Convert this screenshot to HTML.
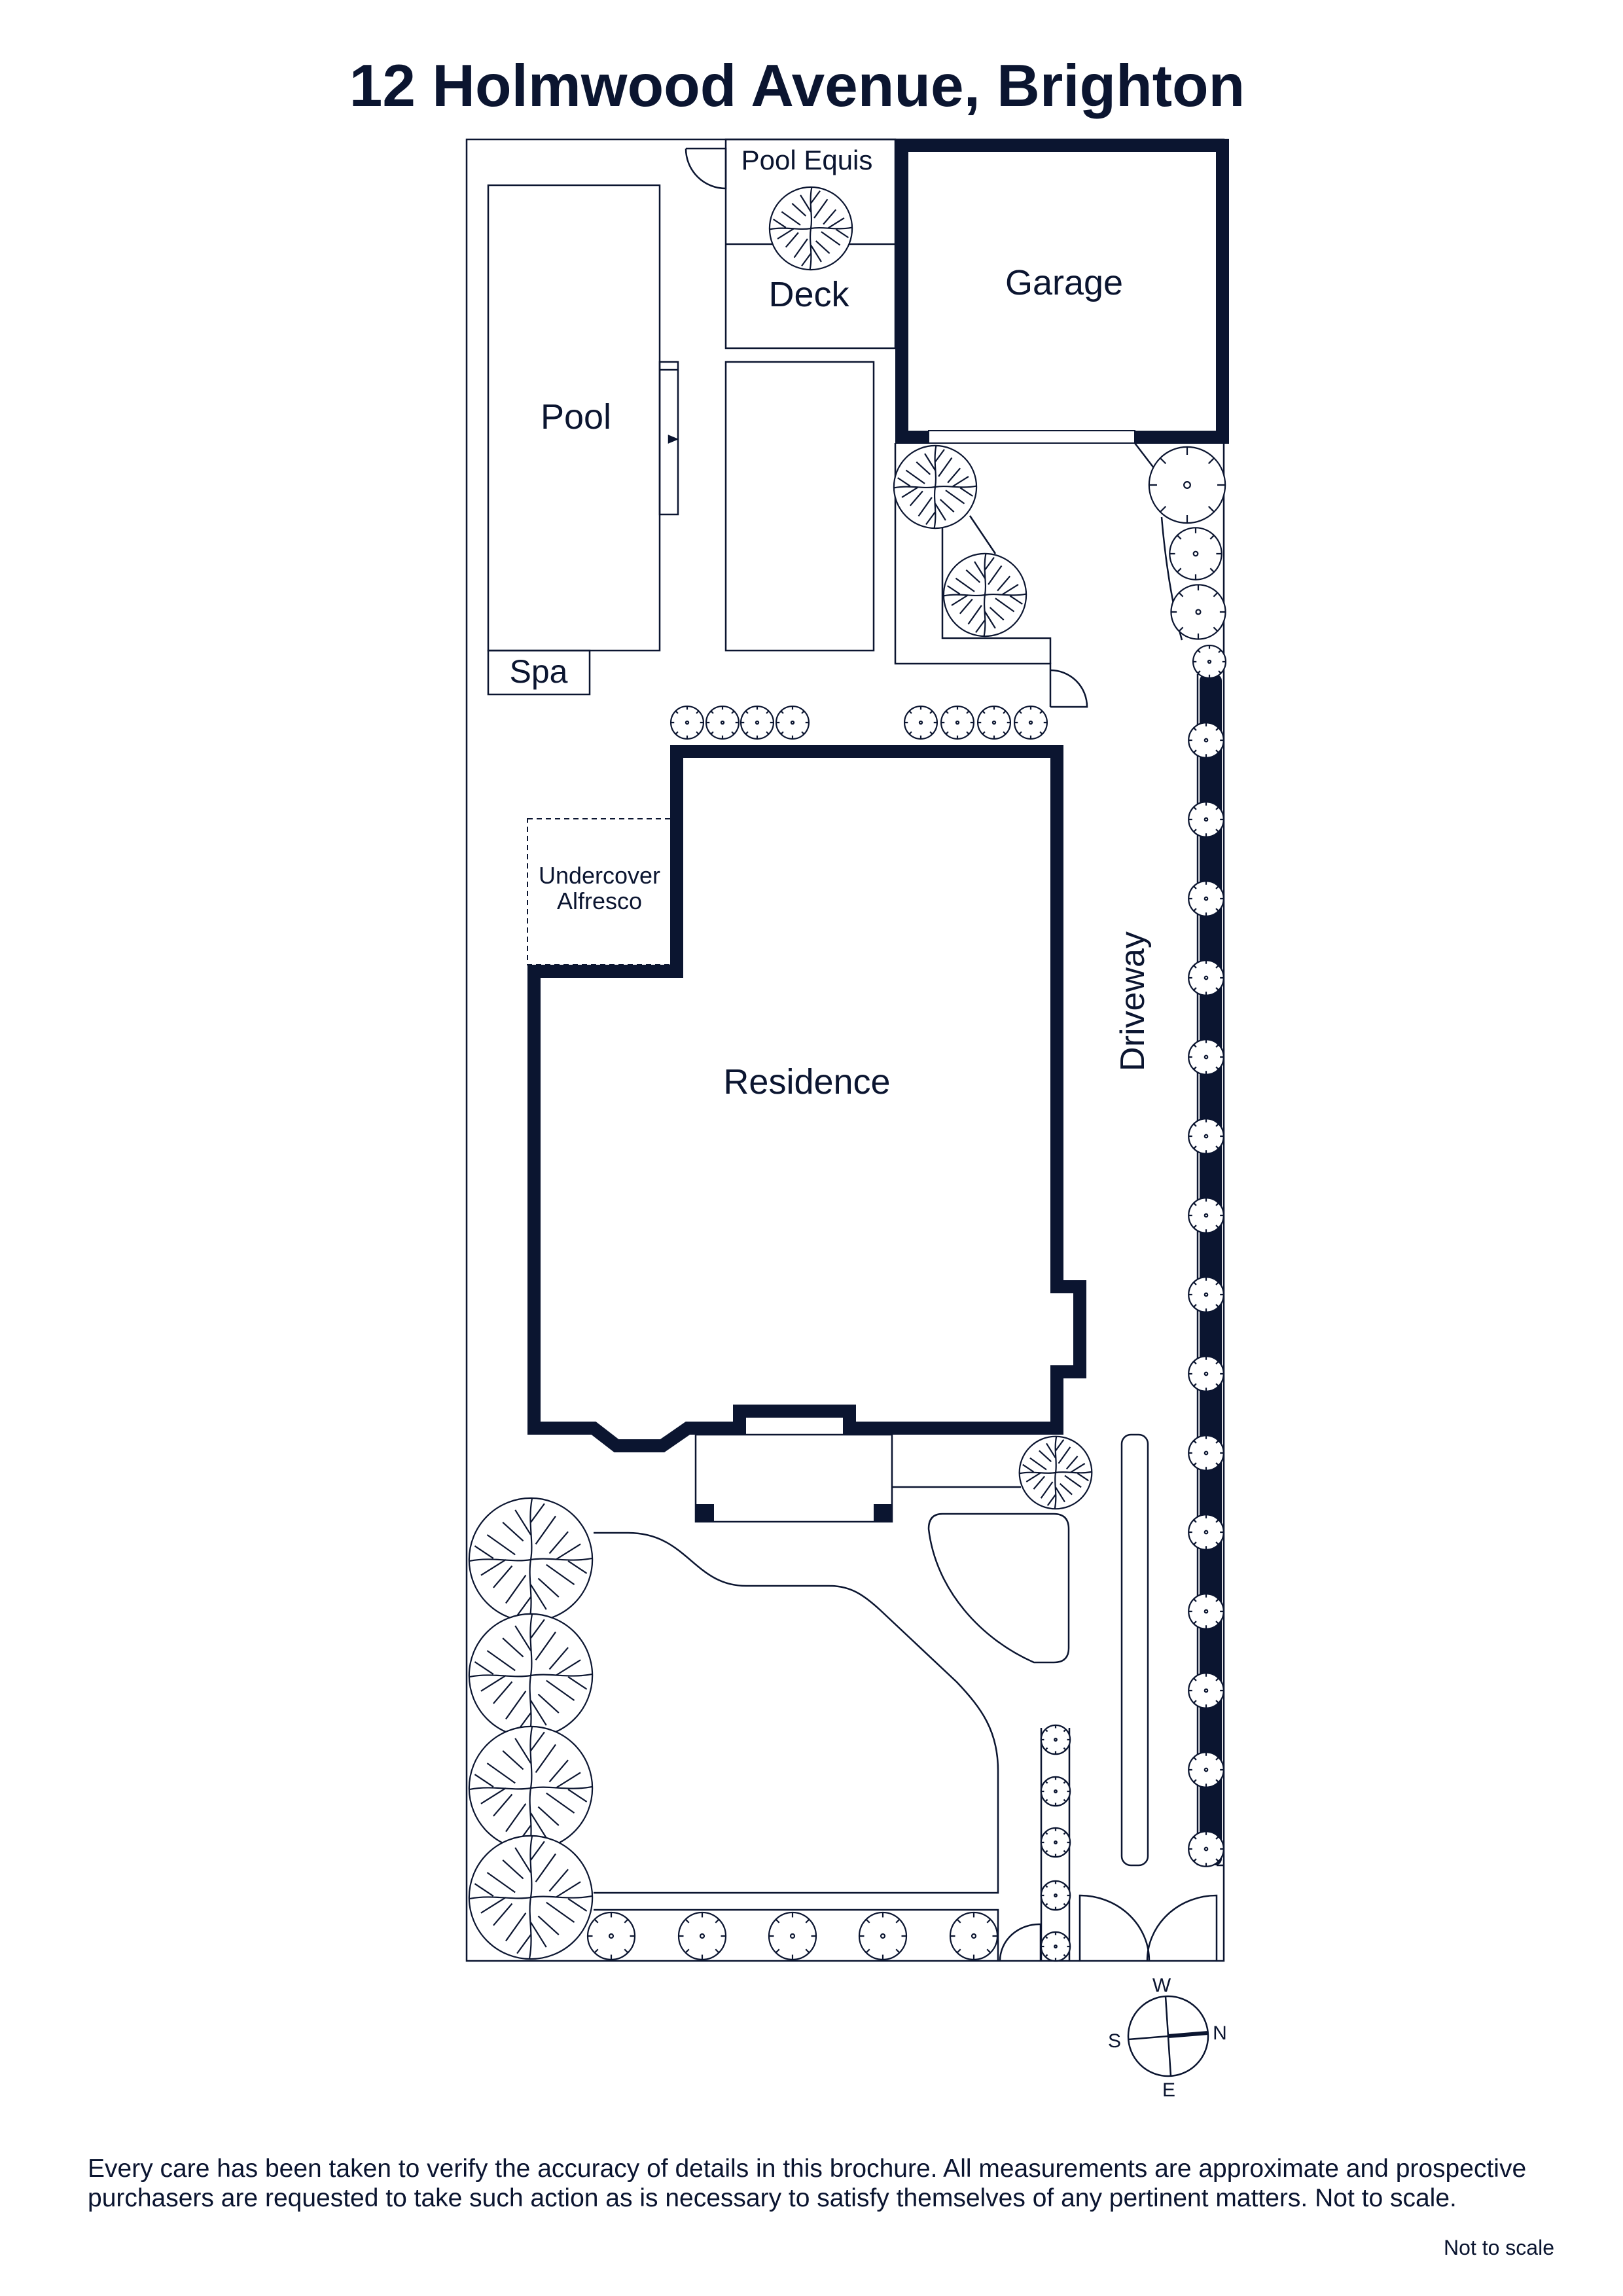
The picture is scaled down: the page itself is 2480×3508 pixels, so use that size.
<!DOCTYPE html>
<html><head><meta charset="utf-8"><style>
html,body{margin:0;padding:0;background:#fff;}
svg{display:block;}
text{font-family:"Liberation Sans",sans-serif;fill:#0b1530;}
</style></head><body>
<svg width="2480" height="3508" viewBox="0 0 2480 3508" xmlns="http://www.w3.org/2000/svg">
<defs>
<symbol id="tree" viewBox="-102 -102 204 204">
<g fill="#fff" stroke="#0b1530" stroke-width="2.2">
<circle r="99" vector-effect="non-scaling-stroke"/>
<path fill="none" vector-effect="non-scaling-stroke" d="M0 0 C5 -30 -5 -60 2 -98 M0 -40 L-25 -80 M0 -60 L22 -90 M-12 -30 L-45 -60 M8 -25 L40 -70 M0 0 C30 -5 60 5 98 -2 M40 0 L80 -25 M60 2 L90 22 M30 -10 L60 -45 M25 8 L70 40 M0 0 C-5 30 5 60 -2 98 M0 40 L25 80 M0 60 L-22 90 M12 30 L45 60 M-8 25 L-40 70 M0 0 C-30 5 -60 -5 -98 2 M-40 0 L-80 25 M-60 -2 L-90 -22 M-30 10 L-60 45 M-25 -8 L-70 -40"/>
</g></symbol>
<symbol id="shrub" viewBox="-52 -52 104 104">
<g fill="#fff" stroke="#0b1530" stroke-width="2.2">
<circle r="48" vector-effect="non-scaling-stroke"/>
<path vector-effect="non-scaling-stroke" d="M48 0 L38 0 M-48 0 L-38 0 M0 48 L0 38 M0 -48 L0 -38 M34 34 L27 27 M-34 34 L-27 27 M34 -34 L27 -27 M-34 -34 L-27 -27"/>
<circle r="4" fill="none" vector-effect="non-scaling-stroke"/>
</g></symbol>
</defs>

<text x="1218" y="162" font-size="91" font-weight="bold" text-anchor="middle">12 Holmwood Avenue, Brighton</text>

<g fill="none" stroke="#0b1530" stroke-width="2.5">
<rect x="713" y="213" width="1157" height="2783"/>
<rect x="746" y="283" width="262" height="711"/>
<rect x="746" y="994" width="155" height="67"/>
<rect x="1008" y="553" width="28" height="233"/>
<line x1="1008" y1="565" x2="1036" y2="565"/>
<path d="M1022 666 L1034 671 L1022 676 Z" fill="#0b1530"/>
<rect x="1109" y="213" width="259" height="319"/>
<line x1="1109" y1="373" x2="1368" y2="373"/>
<rect x="1109" y="553" width="226" height="441"/>
<path d="M1048 227 L1109 227 L1109 288 A61 61 0 0 1 1048 227"/>
<path d="M1368 677 L1368 1014 L1605 1014 L1605 1080"/>
<path d="M1440 806 L1440 975 L1605 975 L1605 1014"/>
<path d="M1605 1024 A56 56 0 0 1 1661 1080 L1605 1080"/>
<path d="M1734 677 L1767 720"/>
<path d="M1775 790 C1780 850 1790 920 1806 978"/>
<path d="M1482 788 L1521 846"/>
<line x1="1830" y1="1030" x2="1830" y2="2850"/>
<rect x="806" y="1251" width="228" height="223" stroke-dasharray="8 6" stroke-width="2"/>
<rect x="1063" y="2192" width="300" height="133"/>
<line x1="1363" y1="2272" x2="1560" y2="2272"/>
<path d="M1440 2313 L1610 2313 Q1633 2313 1633 2336 L1633 2518 Q1633 2540 1610 2540 L1580 2540 C1500 2505 1430 2430 1419 2336 Q1419 2313 1440 2313 Z"/>
<rect x="1714" y="2192" width="40" height="658" rx="14"/>
<path d="M907 2342 L960 2342 C1050 2342 1060 2423 1140 2423 L1267 2423 C1300 2423 1320 2437 1345 2460 L1462 2570 C1500 2610 1525 2645 1525 2705 L1525 2892 L907 2892"/>
<path d="M907 2918 L1525 2918 L1525 2996"/>
<path d="M1590 2996 L1590 2940 A60 56 0 0 0 1528 2996"/>
<line x1="1591" y1="2640" x2="1591" y2="2996"/>
<line x1="1634" y1="2640" x2="1634" y2="2996"/>
<path d="M1650 2996 L1650 2896 A106 100 0 0 1 1756 2996"/>
<path d="M1859 2996 L1859 2896 A106 100 0 0 0 1753 2996"/>
<line x1="1859" y1="2850" x2="1870" y2="2850"/>
<circle cx="1785" cy="3111" r="61"/>
<line x1="1781" y1="3050" x2="1789" y2="3172"/>
<line x1="1724" y1="3116" x2="1785" y2="3111"/>
</g>
<line x1="1785" y1="3111" x2="1846" y2="3106" stroke="#0b1530" stroke-width="6"/>

<rect x="1833" y="1030" width="34" height="1820" rx="10" fill="#0b1530"/>

<rect x="1378" y="222" width="490" height="446" fill="none" stroke="#0b1530" stroke-width="20"/>
<rect x="1419" y="658" width="315" height="19" fill="#fff" stroke="#0b1530" stroke-width="2"/>

<path d="M1034 1148 L1615 1148 L1615 1966 L1650 1966 L1650 2096 L1615 2096 L1615 2182 L1298 2182 L1298 2156 L1130 2156 L1130 2182 L1051 2182 L1012 2209 L942 2209 L907 2182 L816 2182 L816 1484 L1034 1484 Z" fill="none" stroke="#0b1530" stroke-width="20"/>
<rect x="1063" y="2298" width="28" height="27" fill="#0b1530"/>
<rect x="1335" y="2298" width="28" height="27" fill="#0b1530"/>

<use href="#tree" x="1174" y="284" width="130" height="130"/>
<use href="#tree" x="1364" y="679" width="130" height="130"/>
<use href="#tree" x="1440" y="844" width="130" height="130"/>
<use href="#tree" x="1556" y="2193" width="114" height="114"/>
<use href="#tree" x="714" y="2286" width="194" height="194"/>
<use href="#tree" x="714" y="2463" width="194" height="194"/>
<use href="#tree" x="714" y="2635" width="194" height="194"/>
<use href="#tree" x="714" y="2802" width="194" height="194"/>

<use href="#shrub" x="1751" y="678" width="126" height="126"/>
<use href="#shrub" x="1784" y="803" width="86" height="86"/>
<use href="#shrub" x="1786" y="890" width="90" height="90"/>
<use href="#shrub" x="1821" y="984" width="54" height="54"/>
<use href="#shrub" x="1814" y="1102" width="58" height="58"/>
<use href="#shrub" x="1814" y="1223" width="58" height="58"/>
<use href="#shrub" x="1814" y="1344" width="58" height="58"/>
<use href="#shrub" x="1814" y="1465" width="58" height="58"/>
<use href="#shrub" x="1814" y="1586" width="58" height="58"/>
<use href="#shrub" x="1814" y="1707" width="58" height="58"/>
<use href="#shrub" x="1814" y="1828" width="58" height="58"/>
<use href="#shrub" x="1814" y="1949" width="58" height="58"/>
<use href="#shrub" x="1814" y="2070" width="58" height="58"/>
<use href="#shrub" x="1814" y="2191" width="58" height="58"/>
<use href="#shrub" x="1814" y="2312" width="58" height="58"/>
<use href="#shrub" x="1814" y="2433" width="58" height="58"/>
<use href="#shrub" x="1814" y="2554" width="58" height="58"/>
<use href="#shrub" x="1814" y="2675" width="58" height="58"/>
<use href="#shrub" x="1814" y="2796" width="58" height="58"/>
<use href="#shrub" x="1023" y="1077" width="54" height="54"/>
<use href="#shrub" x="1077" y="1077" width="54" height="54"/>
<use href="#shrub" x="1130" y="1077" width="54" height="54"/>
<use href="#shrub" x="1184" y="1077" width="54" height="54"/>
<use href="#shrub" x="1380" y="1077" width="54" height="54"/>
<use href="#shrub" x="1436" y="1077" width="54" height="54"/>
<use href="#shrub" x="1492" y="1077" width="54" height="54"/>
<use href="#shrub" x="1548" y="1077" width="54" height="54"/>
<use href="#shrub" x="895" y="2919" width="78" height="78"/>
<use href="#shrub" x="1034" y="2919" width="78" height="78"/>
<use href="#shrub" x="1172" y="2919" width="78" height="78"/>
<use href="#shrub" x="1310" y="2919" width="78" height="78"/>
<use href="#shrub" x="1449" y="2919" width="78" height="78"/>
<use href="#shrub" x="1589" y="2634" width="48" height="48"/>
<use href="#shrub" x="1589" y="2713" width="48" height="48"/>
<use href="#shrub" x="1589" y="2791" width="48" height="48"/>
<use href="#shrub" x="1589" y="2872" width="48" height="48"/>
<use href="#shrub" x="1589" y="2950" width="48" height="48"/>

<text x="1233" y="259" font-size="42" text-anchor="middle">Pool Equis</text>
<text x="1236" y="468" font-size="54" text-anchor="middle">Deck</text>
<text x="1626" y="450" font-size="54" text-anchor="middle">Garage</text>
<text x="880" y="655" font-size="54" text-anchor="middle">Pool</text>
<text x="823" y="1043" font-size="50" text-anchor="middle">Spa</text>
<text x="916" y="1350" font-size="36" text-anchor="middle">Undercover</text>
<text x="916" y="1389" font-size="36" text-anchor="middle">Alfresco</text>
<text x="1233" y="1671" font-size="54" text-anchor="middle">Residence</text>
<text x="0" y="0" font-size="52" text-anchor="middle" transform="translate(1748,1530) rotate(-90)">Driveway</text>
<text x="1775" y="3043" font-size="30" text-anchor="middle">W</text>
<text x="1864" y="3116" font-size="30" text-anchor="middle">N</text>
<text x="1703" y="3128" font-size="30" text-anchor="middle">S</text>
<text x="1786" y="3203" font-size="30" text-anchor="middle">E</text>
<text x="134" y="3326" font-size="39">Every care has been taken to verify the accuracy of details in this brochure. All measurements are approximate and prospective</text>
<text x="134" y="3371" font-size="39">purchasers are requested to take such action as is necessary to satisfy themselves of any pertinent matters. Not to scale.</text>
<text x="2375" y="3445" font-size="32" text-anchor="end">Not to scale</text>
</svg>
</body></html>
